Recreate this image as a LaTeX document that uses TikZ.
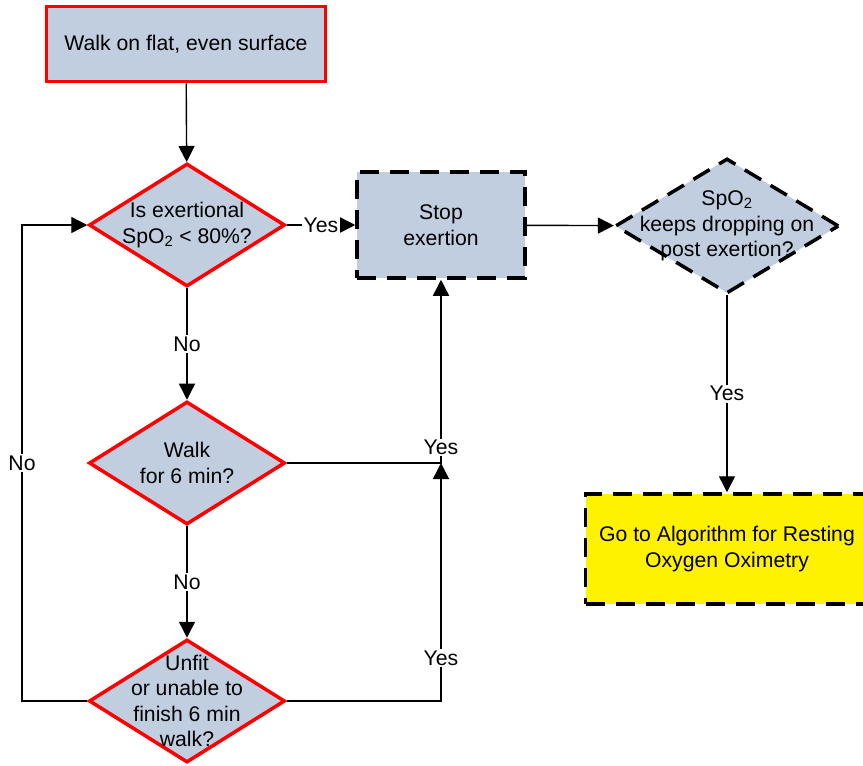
\documentclass[tikz,border=0pt]{standalone}
\usepackage{fontspec}
\setmainfont{Liberation Sans}
\usetikzlibrary{shapes.geometric,arrows.meta}
\definecolor{boxfill}{RGB}{192,206,224}
\begin{document}
\begin{tikzpicture}[x=1pt,y=-1pt,
  font=\fontsize{21.2}{25.5}\selectfont,
  redbox/.style={rectangle,draw=red,line width=3.5pt,fill=boxfill,inner sep=0pt,align=center},
  reddiam/.style={diamond,draw=red,line width=3.5pt,fill=boxfill,inner sep=0pt},
  dashbox/.style={rectangle,draw=black,line width=3.5pt,dash pattern=on 19pt off 11pt,fill=boxfill,inner sep=0pt,align=center},
  dashdiam/.style={diamond,draw=black,line width=3.5pt,dash pattern=on 19pt off 11pt,fill=boxfill,inner sep=0pt},
  txt/.style={align=center,inner sep=0pt},
  conn/.style={line width=1.4pt,-{Triangle[length=16pt,width=16pt]}},
  lbl/.style={fill=white,inner sep=1.5pt}
]
\useasboundingbox (0,0) rectangle (863,766);

\node[redbox,minimum width=279pt,minimum height=75pt] (start) at (186,44) {Walk on flat, even surface};

\node[reddiam,minimum width=196pt,minimum height=123pt] (d1) at (187,225) {};
\node[txt] (d1t) at (d1) {Is exertional\\SpO\textsubscript{2} < 80\%?};

\node[reddiam,minimum width=196pt,minimum height=123pt] (d2) at (187,463) {};
\node[txt] (d2t) at (d2) {Walk\\for 6 min?};

\node[reddiam,minimum width=196pt,minimum height=123pt] (d4) at (187,701) {};
\node[txt] (d4t) at (d4) {Unfit\\or unable to\\finish 6 min\\walk?};

\node[dashbox,minimum width=168pt,minimum height=106pt] (stop) at (441,225) {Stop\\exertion};

\node[dashdiam,minimum width=224pt,minimum height=135pt] (d3) at (727,226) {};
\node[txt] (d3t) at (d3) {SpO\textsubscript{2}\\keeps dropping on\\post exertion?};

\node[dashbox,fill=yellow,minimum width=283pt,minimum height=110pt] (goto) at (727,549) {Go to Algorithm for Resting\\Oxygen Oximetry};

\coordinate (j) at (441,463);
\coordinate (jr) at (441,701);
\coordinate (lft) at (22,701);

\draw[conn] (start) -- (d1);
\draw[conn] (d1) -- node[lbl]{Yes} (stop);
\draw[conn] (d1) -- node[lbl]{No} (d2);
\draw[conn] (d2) -- node[lbl]{No} (d4);
\draw[conn] (stop) -- (d3);
\draw[conn] (d3) -- node[lbl]{Yes} (goto);
\draw[conn] (d2.east) -- (j) -- node[lbl,pos=0.085]{Yes} (stop.south);
\draw[conn] (d4.east) -- (jr) -- node[lbl,pos=0.18]{Yes} (j);
\draw[conn] (d4.west) -- (lft) |- node[lbl,pos=0.25]{No} (d1.west);
\end{tikzpicture}
\end{document}
